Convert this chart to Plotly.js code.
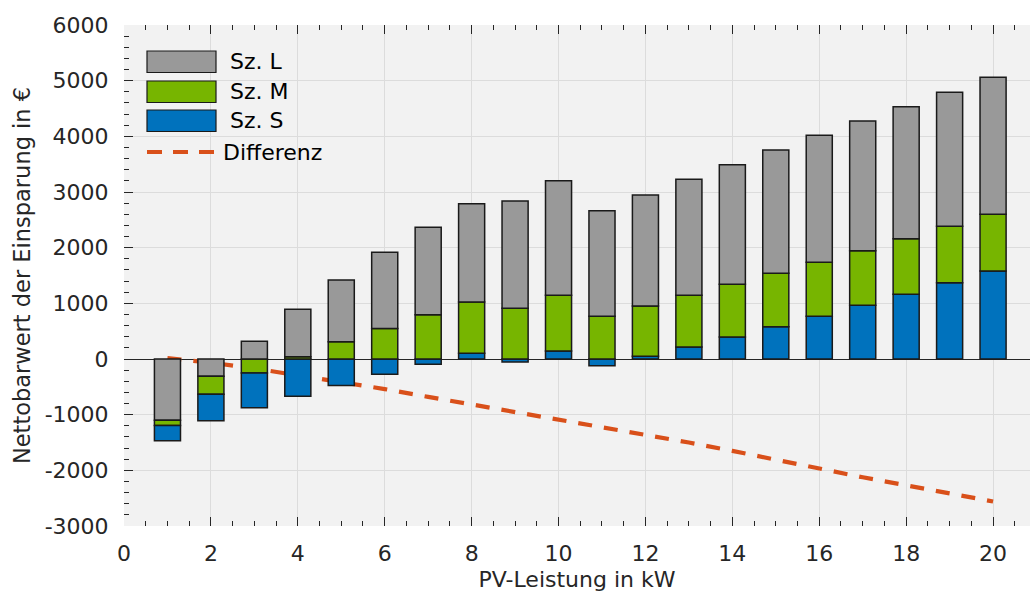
<!DOCTYPE html>
<html><head><meta charset="utf-8">
<script src="https://cdn.plot.ly/plotly-3.0.1.min.js"></script>
<style>html,body{margin:0;padding:0;background:#fff;}</style>
</head><body>
<div id="chart" style="width:1030px;height:592px"></div>
<script>
// ---- data ----
const pvLeistung = [1,2,3,4,5,6,7,8,9,10,11,12,13,14,15,16,17,18,19,20];
const szS = [-275,-475,-625,-670,-475,-275,-95,102,-54,144,-120,48,216,395,581,767,964,1162,1371,1581];
const szM = [-95,-325,-250,40,310,550,796,922,910,1000,767,904,928,946,958,970,982,999,1013,1018];
const szL = [-1100,-310,320,855,1110,1366,1569,1766,1928,2059,1897,1994,2084,2150,2215,2281,2329,2371,2406,2461];
const differenz = [15,-65,-170,-290,-410,-540,-680,-815,-955,-1095,-1225,-1355,-1500,-1650,-1810,-1975,-2125,-2270,-2415,-2560];
const seriesNames = ['Sz. L','Sz. M','Sz. S','Differenz'];
const xTickVals = [0,2,4,6,8,10,12,14,16,18,20];
const yTickVals = [-3000,-2000,-1000,0,1000,2000,3000,4000,5000,6000];
const yTickText = ['-3000','-2000','-1000','0','1000','2000','3000','4000','5000','6000'];

// ---- styles ----
const colL = '#999999', colM = '#77B500', colS = '#0072BD', colD = '#D9501A';
const edge = {color:'#1a1a1a', width:1.5};
const barWidth = 0.6;

const neg = a => a.map(v => v < 0 ? v : null);
const pos = a => a.map(v => v >= 0 ? v : null);
function bar(y, color){
  return {type:'bar', x:pvLeistung, y:y, width:barWidth, zorder:1,
    marker:{color:color, line:edge}, showlegend:false, hoverinfo:'skip'};
}
// negatives stack L, M, S outward from zero; positives stack S, M, L
const traces = [
  bar(neg(szL), colL), bar(neg(szM), colM), bar(neg(szS), colS),
  bar(pos(szS), colS), bar(pos(szM), colM), bar(pos(szL), colL),
  {type:'scatter', mode:'lines', x:pvLeistung, y:differenz, name:seriesNames[3], zorder:0,
   line:{color:colD, width:4.2, dash:'14px,12px'}, showlegend:false, hoverinfo:'skip'}
];

// plot area in pixels: x 124..1030, y 25..526
const PX = p => (p-124)/906;
const PY = p => (526-p)/501;
const legendColors = [colL, colM, colS];
const legendTops = [51, 81, 110];
const shapes = [];
const annotations = [];
legendColors.forEach((c,i)=>{
  shapes.push({type:'rect', xref:'paper', yref:'paper',
    x0:PX(147), x1:PX(216), y0:PY(legendTops[i]), y1:PY(legendTops[i]+21.5),
    fillcolor:c, line:{color:'#1a1a1a', width:1.2}});
  annotations.push({xref:'paper', yref:'paper', x:PX(228), y:PY(legendTops[i]+11),
    xanchor:'left', yanchor:'middle', text:seriesNames[i], showarrow:false,
    font:{family:'DejaVu Sans', size:22, color:'#000'}});
});
shapes.push({type:'line', xref:'paper', yref:'paper', x0:PX(147), x1:PX(216),
  y0:PY(152), y1:PY(152), line:{color:colD, width:4.2, dash:'15px,11px'}});
annotations.push({xref:'paper', yref:'paper', x:PX(221), y:PY(152),
  xanchor:'left', yanchor:'middle', text:seriesNames[3], showarrow:false,
  font:{family:'DejaVu Sans', size:22, color:'#000'}});

const axisCol = '#262626';
const layout = {
  width:1030, height:592,
  margin:{l:124, r:0, t:25, b:66},
  paper_bgcolor:'#ffffff', plot_bgcolor:'#F2F2F2',
  barmode:'relative', showlegend:false,
  font:{family:'DejaVu Sans', size:22, color:axisCol},
  xaxis:{range:[0,20.85], tickmode:'array', tickvals:xTickVals,
    ticks:'inside', ticklen:9, tickcolor:axisCol, showline:true, linecolor:axisCol, linewidth:1,
    mirror:'ticks', showgrid:true, gridcolor:'#DCDCDC', gridwidth:1, zeroline:false,
    minor:{dtick:0.5, tick0:0, ticks:'inside', ticklen:5, tickcolor:axisCol, showgrid:false},
    ticklabelstandoff:8,
    title:{text:'PV-Leistung in kW', standoff:6, font:{size:22, color:axisCol}}},
  yaxis:{range:[-3000,6000], tickmode:'array', tickvals:yTickVals, ticktext:yTickText,
    ticks:'inside', ticklen:9, tickcolor:axisCol, showline:true, linecolor:axisCol, linewidth:1,
    showgrid:true, gridcolor:'#DCDCDC', gridwidth:1,
    zeroline:true, zerolinecolor:axisCol, zerolinewidth:1,
    minor:{dtick:200, tick0:0, ticks:'inside', ticklen:5, tickcolor:axisCol, showgrid:false},
    ticklabelstandoff:10,
    title:{text:'Nettobarwert der Einsparung in €', standoff:7, font:{size:22.5, color:axisCol}}},
  shapes:shapes, annotations:annotations
};
Plotly.newPlot('chart', traces, layout, {displayModeBar:false, staticPlot:true});
</script>
</body></html>
